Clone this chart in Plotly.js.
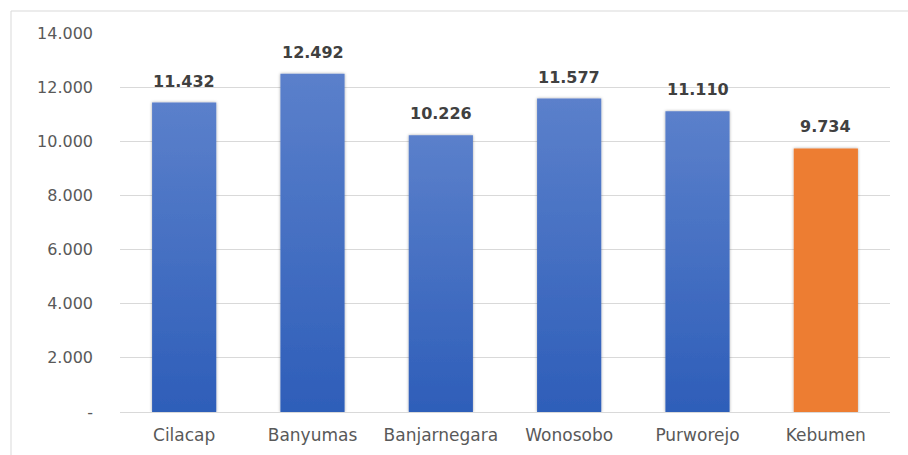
<!DOCTYPE html>
<html>
<head>
<meta charset="utf-8">
<script src="https://cdn.plot.ly/plotly-3.0.1.min.js"></script>
<style>
  html, body { margin: 0; padding: 0; background: #ffffff; }
  #chart { width: 908px; height: 455px; }
</style>
</head>
<body>
<div id="chart"></div>
<script>
const categories = ["Cilacap", "Banyumas", "Banjarnegara", "Wonosobo", "Purworejo", "Kebumen"];
const values = [11432, 12492, 10226, 11577, 11110, 9734];
const valueLabels = ["11.432", "12.492", "10.226", "11.577", "11.110", "9.734"];
const barColors = ["#4472C4", "#4472C4", "#4472C4", "#4472C4", "#4472C4", "#ED7D31"];
const yTickVals = [0, 2000, 4000, 6000, 8000, 10000, 12000, 14000];
const yTickText = ["-", "2.000", "4.000", "6.000", "8.000", "10.000", "12.000", "14.000"];

const trace = {
  type: "bar",
  x: categories,
  y: values,
  marker: { color: barColors, line: { width: 0 } },
  hoverinfo: "none"
};

const labelAnnotations = categories.map(function (c, i) {
  return {
    x: c, y: values[i], xref: "x", yref: "y",
    text: valueLabels[i],
    showarrow: false,
    yanchor: "bottom",
    yshift: 10,
    font: { family: "DejaVu Sans", size: 16, color: "#404040", weight: "bold" }
  };
});

const layout = {
  width: 908,
  height: 455,
  margin: { l: 120, r: 18, t: 33, b: 43 },
  paper_bgcolor: "#ffffff",
  plot_bgcolor: "#ffffff",
  showlegend: false,
  bargap: 0.5,
  font: { family: "DejaVu Sans", color: "#595959", size: 16 },
  xaxis: {
    type: "category",
    showgrid: false,
    showline: true,
    linecolor: "#d9d9d9",
    linewidth: 1,
    ticks: "",
    ticklabelstandoff: 8,
    tickfont: { family: "DejaVu Sans", size: 17, color: "#595959" },
    zeroline: false,
    fixedrange: true
  },
  yaxis: {
    range: [0, 14000],
    tickvals: yTickVals,
    ticktext: yTickText,
    showgrid: true,
    gridcolor: "#d9d9d9",
    gridwidth: 1,
    zeroline: false,
    showline: false,
    ticks: "",
    ticklabelstandoff: 26,
    tickfont: { family: "DejaVu Sans", size: 16, color: "#595959" },
    fixedrange: true
  },
  annotations: labelAnnotations,
  shapes: [{
    type: "rect",
    xref: "paper", yref: "paper",
    x0: -109 / 770, x1: 1.5,
    y0: -0.5, y1: 1 + 22 / 379,
    line: { color: "#d9d9d9", width: 1 },
    fillcolor: "rgba(0,0,0,0)",
    layer: "below"
  }]
};

Plotly.newPlot("chart", [trace], layout, { staticPlot: true, displayModeBar: false }).then(function (gd) {
  const svg = gd.querySelector(".main-svg");
  const ns = "http://www.w3.org/2000/svg";
  let defs = svg.querySelector("defs");
  if (!defs) { defs = document.createElementNS(ns, "defs"); svg.insertBefore(defs, svg.firstChild); }
  function grad(id, top, bottom) {
    const g = document.createElementNS(ns, "linearGradient");
    g.setAttribute("id", id);
    g.setAttribute("x1", "0"); g.setAttribute("y1", "0");
    g.setAttribute("x2", "0"); g.setAttribute("y2", "1");
    const s1 = document.createElementNS(ns, "stop");
    s1.setAttribute("offset", "0"); s1.setAttribute("stop-color", top);
    const s2 = document.createElementNS(ns, "stop");
    s2.setAttribute("offset", "1"); s2.setAttribute("stop-color", bottom);
    g.appendChild(s1); g.appendChild(s2);
    defs.appendChild(g);
  }
  grad("blueGrad", "#5B80CB", "#2E5EB9");
  const f = document.createElementNS(ns, "filter");
  f.setAttribute("id", "barShadow");
  f.setAttribute("x", "-20%"); f.setAttribute("y", "-5%");
  f.setAttribute("width", "140%"); f.setAttribute("height", "110%");
  const ds = document.createElementNS(ns, "feDropShadow");
  ds.setAttribute("dx", "0"); ds.setAttribute("dy", "0");
  ds.setAttribute("stdDeviation", "1.5");
  ds.setAttribute("flood-color", "#000"); ds.setAttribute("flood-opacity", "0.35");
  f.appendChild(ds);
  defs.appendChild(f);
  const paths = gd.querySelectorAll(".barlayer .point path");
  paths.forEach(function (p, i) {
    if (barColors[i] === "#4472C4") p.style.fill = "url(#blueGrad)";
    p.setAttribute("filter", "url(#barShadow)");
  });
});
</script>
</body>
</html>
